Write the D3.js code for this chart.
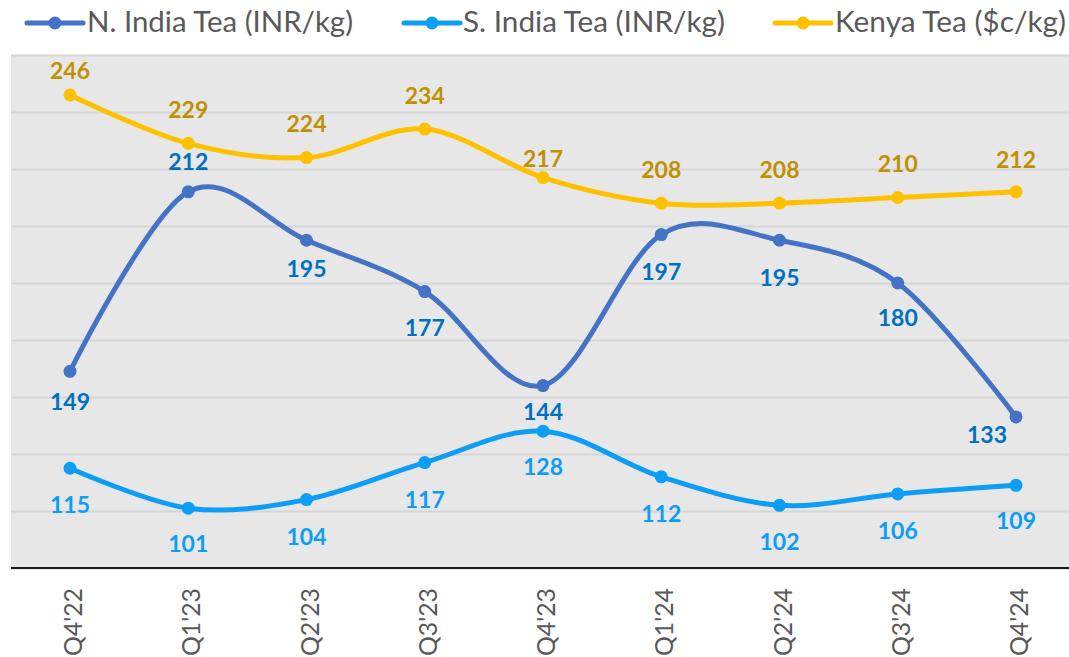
<!DOCTYPE html>
<html>
<head>
<meta charset="utf-8">
<script src="https://cdn.jsdelivr.net/npm/d3@7"></script>
<style>
  body { margin: 0; background: #fff; }
  svg text { font-family: Lato, "Open Sans", sans-serif; }
</style>
</head>
<body>
<div id="chart"></div>
<script>
// Quarterly tea prices
const quarters = ["Q4'22","Q1'23","Q2'23","Q3'23","Q4'23","Q1'24","Q2'24","Q3'24","Q4'24"];
const northIndia = [149, 212, 195, 177, 144, 197, 195, 180, 133];
const southIndia = [115, 101, 104, 117, 128, 112, 102, 106, 109];
const kenya = [246, 229, 224, 234, 217, 208, 208, 210, 212];
const seriesNames = ["N. India Tea (INR/kg)", "S. India Tea (INR/kg)", "Kenya Tea ($c/kg)"];
const yTicks = [80, 100, 120, 140, 160, 180, 200, 220, 240, 260];

// label nudges (px, relative to the point)
const kenyaDy = [-24, -34, -34, -33, -19, -33, -33, -34, -32];
const northDy = [30, -30, 28, 36, 26, 37, 37, 35, 18];
const northDx = [0, 0, 0, 0, 0, 0, 0, 0, -29];
const southDy = [36, 36, 37, 37, 36, 37, 36, 37, 35];

const W = 1069, H = 657;
const plot = {left: 11, right: 1075, top: 55, bottom: 568};

const svg = d3.select("#chart").append("svg")
  .attr("width", W).attr("height", H);

const x = d3.scalePoint()
  .domain(quarters)
  .range([70, 1016]);

const y = d3.scaleLinear()
  .domain([80, 260])
  .range([plot.bottom, plot.top]);

// background
svg.append("rect")
  .attr("x", plot.left).attr("y", plot.top)
  .attr("width", plot.right - plot.left)
  .attr("height", plot.bottom - plot.top)
  .attr("fill", "#e7e7e7");

// gridlines
svg.append("g")
  .attr("transform", "translate(" + plot.left + ",0)")
  .call(d3.axisLeft(y).tickValues(yTicks).tickSize(-(plot.right - plot.left)).tickFormat(""))
  .call(g => g.select(".domain").remove())
  .call(g => g.selectAll("line").attr("stroke", "#d6d6d6").attr("stroke-width", 2));

// x axis line + rotated labels
const xAxis = svg.append("g")
  .attr("transform", "translate(0," + plot.bottom + ")")
  .call(d3.axisBottom(x).tickSize(0).tickFormat(""));
xAxis.select(".domain").remove();
xAxis.append("line")
  .attr("x1", plot.left).attr("x2", W)
  .attr("stroke", "#1a1a1a").attr("stroke-width", 2);

svg.append("g").selectAll("text")
  .data(quarters)
  .enter()
  .append("text")
    .attr("transform", d => "translate(" + (x(d) + 2) + ",588)rotate(-90)")
    .attr("text-anchor", "end")
    .attr("dominant-baseline", "central")
    .attr("textLength", 68)
    .attr("lengthAdjust", "spacingAndGlyphs")
    .style("font-size", "25px")
    .attr("fill", "#595959")
    .text(d => d);

const series = [
  {name: seriesNames[0], values: northIndia, color: "#4472c4", label: "#0070c0", dy: northDy, dx: northDx},
  {name: seriesNames[1], values: southIndia, color: "#0d9df5", label: "#0d9df5", dy: southDy, dx: null},
  {name: seriesNames[2], values: kenya, color: "#ffc000", label: "#bf9000", dy: kenyaDy, dx: null}
];

const line = d3.line()
  .x((d, i) => x(quarters[i]))
  .y(d => y(d))
  .curve(d3.curveCardinal.tension(0));

series.forEach(s => {
  const g = svg.append("g");
  g.append("path")
    .datum(s.values)
    .attr("d", line)
    .attr("fill", "none")
    .attr("stroke", s.color)
    .attr("stroke-width", 5)
    .attr("stroke-linecap", "round");
  g.selectAll("circle")
    .data(s.values)
    .enter()
    .append("circle")
      .attr("cx", (d, i) => x(quarters[i]))
      .attr("cy", d => y(d))
      .attr("r", 6.5)
      .attr("fill", s.color);
  g.selectAll("text")
    .data(s.values)
    .enter()
    .append("text")
      .attr("x", (d, i) => x(quarters[i]) + (s.dx ? s.dx[i] : 0))
      .attr("y", (d, i) => y(d) + s.dy[i])
      .attr("dy", "0.36em")
      .attr("text-anchor", "middle")
      .style("font-size", "23px")
      .style("font-weight", "bold")
      .attr("fill", s.label)
      .text(d => d);
});

// legend
const legendPos = [{line: 27, text: 87, len: 266}, {line: 404, text: 463, len: 262}, {line: 775, text: 835, len: 231}];
series.forEach((s, i) => {
  const p = legendPos[i];
  const lg = svg.append("g");
  lg.append("line")
    .attr("x1", p.line).attr("x2", p.line + 56)
    .attr("y1", 23).attr("y2", 23)
    .attr("stroke", s.color).attr("stroke-width", 5)
    .attr("stroke-linecap", "round");
  lg.append("circle")
    .attr("cx", p.line + 28).attr("cy", 23).attr("r", 6.5)
    .attr("fill", s.color);
  lg.append("text")
    .attr("x", p.text).attr("y", 32)
    .attr("textLength", p.len)
    .attr("lengthAdjust", "spacingAndGlyphs")
    .style("font-size", "29px")
    .attr("fill", "#595959")
    .text(s.name);
});
</script>
</body>
</html>
